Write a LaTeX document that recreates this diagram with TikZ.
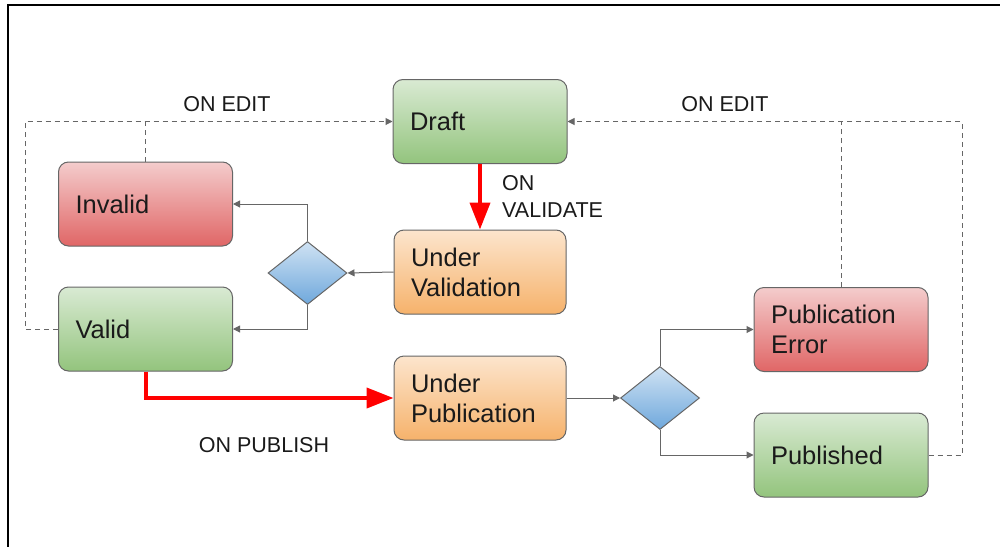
\documentclass[tikz,border=0pt]{standalone}
\usepackage{fontspec}
\setmainfont{Liberation Sans}
\usetikzlibrary{arrows.meta,shapes.geometric}
\definecolor{edgegray}{HTML}{666666}
\definecolor{gtop}{HTML}{D9EAD3}
\definecolor{gbot}{HTML}{93C47D}
\definecolor{rtop}{HTML}{F4CCCC}
\definecolor{rbot}{HTML}{E06666}
\definecolor{otop}{HTML}{FCE5CD}
\definecolor{obot}{HTML}{F6B26B}
\definecolor{btop}{HTML}{CFE2F3}
\definecolor{bbot}{HTML}{6FA8DC}
\definecolor{txt}{HTML}{1A1A1A}
\tikzset{
  state/.style={draw=edgegray, line width=1pt, rounded corners=10pt,
    minimum height=84pt, text width=140pt, inner xsep=17pt, inner ysep=0pt,
    align=left, text=txt, font=\fontsize{25.5}{30}\selectfont},
  greenbox/.style={state, top color=gtop, bottom color=gbot},
  redbox/.style={state, top color=rtop, bottom color=rbot},
  orangebox/.style={state, top color=otop, bottom color=obot},
  decision/.style={diamond, draw=edgegray, line width=1pt, top color=btop, bottom color=bbot,
    minimum width=79pt, minimum height=63pt, inner sep=0pt},
  flow/.style={draw=edgegray, line width=1pt, -{Triangle[length=7pt,width=7pt]}},
  redflow/.style={draw=red, line width=4pt, -{Triangle[length=27pt,width=20pt]}},
  dashedge/.style={draw=edgegray, line width=1pt, dash pattern=on 5pt off 4pt},
  lbl/.style={inner sep=0pt, text=txt, font=\fontsize{21.5}{27}\selectfont}
}
\begin{document}
\begin{tikzpicture}[x=1pt,y=-1pt]
\useasboundingbox (0,0) rectangle (1000,546);
\fill[white] (0,0) rectangle (1000,546);
\draw[line width=2.5pt, line cap=rect] (8,546) -- (8,5) -- (1000,5);

\node[greenbox] (draft) at (480,121.5) {Draft};
\node[redbox] (invalid) at (145.5,204) {Invalid};
\node[greenbox] (valid) at (145.5,329) {Valid};
\node[orangebox, text width=138pt] (uval) at (480,272) {Under\\Validation};
\node[decision] (d1) at (307.5,273) {};
\node[orangebox, text width=138pt] (upub) at (480,398) {Under\\Publication};
\node[decision] (d2) at (660,398) {};
\node[redbox] (perr) at (841,329.5) {Publication\\Error};
\node[greenbox] (pub) at (841,455) {Published};

\coordinate (lc) at (25,121.5);
\coordinate (rc) at (962,121.5);

\draw[dashedge, -{Triangle[length=7pt,width=7pt]}] (valid.west) -| (lc) -- (draft.west);
\draw[dashedge] (invalid.north) -- (invalid.north |- draft.west);
\draw[dashedge, -{Triangle[length=7pt,width=7pt]}] (pub.east) -| (rc) -- (draft.east);
\draw[dashedge] (perr.north) -- (perr.north |- draft.east);

\draw[flow] (uval.west) -- (d1.east);
\draw[flow] (d1.north) |- (invalid.east);
\draw[flow] (d1.south) |- (valid.east);
\draw[flow] (upub.east) -- (d2.west);
\draw[flow] (d2.north) |- (perr.west);
\draw[flow] (d2.south) |- (pub.west);

\draw[redflow] (draft.south) -- (uval.north);
\draw[redflow] (valid.south) |- (upub.west);

\node[lbl] (editl) at (227,104) {ON EDIT};
\node[lbl] (editr) at (725,104) {ON EDIT};
\node[lbl, align=left, anchor=north west] (onval) at (502,175) {ON\\VALIDATE};
\node[lbl] (onpub) at (264,445) {ON PUBLISH};
\end{tikzpicture}
\end{document}
